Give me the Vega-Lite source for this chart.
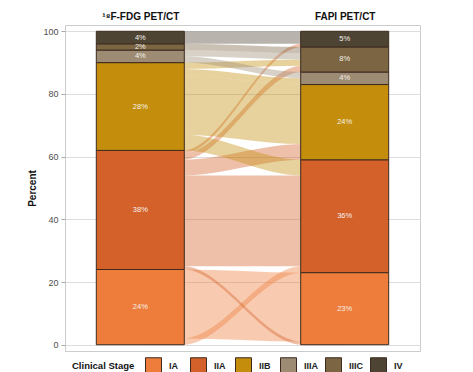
{
  "$schema": "https://vega.github.io/schema/vega-lite/v6.json",
  "width": 355,
  "height": 326,
  "autosize": {"type": "none"},
  "padding": {"left": 65, "top": 25, "right": 53, "bottom": 21},
  "background": "white",
  "config": {
    "font": "Liberation Sans",
    "view": {"stroke": "#cccccc", "strokeWidth": 1}
  },
  "datasets": {
    "bars": [
      {"method": "FDG", "stage": "IA", "pct": 24},
      {"method": "FDG", "stage": "IIA", "pct": 38},
      {"method": "FDG", "stage": "IIB", "pct": 28},
      {"method": "FDG", "stage": "IIIA", "pct": 4},
      {"method": "FDG", "stage": "IIIC", "pct": 2},
      {"method": "FDG", "stage": "IV", "pct": 4},
      {"method": "FAPI", "stage": "IA", "pct": 23},
      {"method": "FAPI", "stage": "IIA", "pct": 36},
      {"method": "FAPI", "stage": "IIB", "pct": 24},
      {"method": "FAPI", "stage": "IIIA", "pct": 4},
      {"method": "FAPI", "stage": "IIIC", "pct": 8},
      {"method": "FAPI", "stage": "IV", "pct": 5}
    ],
    "flows": [
      {"flow": "IA-IIA", "stage": "IA", "to": "IIA", "side": "L", "lo": 0, "hi": 2},
      {"flow": "IA-IIA", "stage": "IA", "to": "IIA", "side": "R", "lo": 23, "hi": 25},
      {"flow": "IA-IA", "stage": "IA", "to": "IA", "side": "L", "lo": 2, "hi": 24},
      {"flow": "IA-IA", "stage": "IA", "to": "IA", "side": "R", "lo": 1, "hi": 23},
      {"flow": "IIA-IA", "stage": "IIA", "to": "IA", "side": "L", "lo": 24, "hi": 25},
      {"flow": "IIA-IA", "stage": "IIA", "to": "IA", "side": "R", "lo": 0, "hi": 1},
      {"flow": "IIA-IIA", "stage": "IIA", "to": "IIA", "side": "L", "lo": 25, "hi": 54},
      {"flow": "IIA-IIA", "stage": "IIA", "to": "IIA", "side": "R", "lo": 25, "hi": 54},
      {"flow": "IIA-IIB", "stage": "IIA", "to": "IIB", "side": "L", "lo": 54, "hi": 59},
      {"flow": "IIA-IIB", "stage": "IIA", "to": "IIB", "side": "R", "lo": 59, "hi": 64},
      {"flow": "IIA-IIIC", "stage": "IIA", "to": "IIIC", "side": "L", "lo": 59, "hi": 61},
      {"flow": "IIA-IIIC", "stage": "IIA", "to": "IIIC", "side": "R", "lo": 87, "hi": 89},
      {"flow": "IIA-IV", "stage": "IIA", "to": "IV", "side": "L", "lo": 61, "hi": 62},
      {"flow": "IIA-IV", "stage": "IIA", "to": "IV", "side": "R", "lo": 95, "hi": 96},
      {"flow": "IIB-IIA", "stage": "IIB", "to": "IIA", "side": "L", "lo": 62, "hi": 67},
      {"flow": "IIB-IIA", "stage": "IIB", "to": "IIA", "side": "R", "lo": 54, "hi": 59},
      {"flow": "IIB-IIB", "stage": "IIB", "to": "IIB", "side": "L", "lo": 67, "hi": 86},
      {"flow": "IIB-IIB", "stage": "IIB", "to": "IIB", "side": "R", "lo": 64, "hi": 83},
      {"flow": "IIB-IIIA", "stage": "IIB", "to": "IIIA", "side": "L", "lo": 86, "hi": 88},
      {"flow": "IIB-IIIA", "stage": "IIB", "to": "IIIA", "side": "R", "lo": 83, "hi": 85},
      {"flow": "IIB-IIIC", "stage": "IIB", "to": "IIIC", "side": "L", "lo": 88, "hi": 90},
      {"flow": "IIB-IIIC", "stage": "IIB", "to": "IIIC", "side": "R", "lo": 89, "hi": 91},
      {"flow": "IIIA-IIIA", "stage": "IIIA", "to": "IIIA", "side": "L", "lo": 90, "hi": 92},
      {"flow": "IIIA-IIIA", "stage": "IIIA", "to": "IIIA", "side": "R", "lo": 85, "hi": 87},
      {"flow": "IIIA-IIIC", "stage": "IIIA", "to": "IIIC", "side": "L", "lo": 92, "hi": 94},
      {"flow": "IIIA-IIIC", "stage": "IIIA", "to": "IIIC", "side": "R", "lo": 91, "hi": 93},
      {"flow": "IIIC-IIIC", "stage": "IIIC", "to": "IIIC", "side": "L", "lo": 94, "hi": 96},
      {"flow": "IIIC-IIIC", "stage": "IIIC", "to": "IIIC", "side": "R", "lo": 93, "hi": 95},
      {"flow": "IV-IV", "stage": "IV", "to": "IV", "side": "L", "lo": 96, "hi": 100},
      {"flow": "IV-IV", "stage": "IV", "to": "IV", "side": "R", "lo": 96, "hi": 100}
    ]
  },
  "layer": [
    {
      "data": {"name": "flows"},
      "transform": [
        {"calculate": "[0, 1]", "as": "k"},
        {"flatten": ["k"]},
        {"calculate": "datum.side == 'L' ? 1 + 0.21 * datum.k : 2 - 0.21 * datum.k", "as": "xpos"}
      ],
      "mark": {"type": "area", "interpolate": "monotone", "opacity": 0.4},
      "encoding": {
        "x": {"field": "xpos", "type": "quantitative",
          "scale": {"domain": [0.656, 2.344], "nice": false, "zero": false},
          "axis": {"orient": "top", "values": [1, 2], "labelExpr": "datum.value == 1 ? '¹⁸F-FDG PET/CT' : 'FAPI PET/CT'", "ticks": false, "domain": false, "grid": false, "title": null, "labelFontSize": 10, "labelFontWeight": "bold", "labelColor": "#111111", "labelPadding": 4}},
        "y": {"field": "lo", "type": "quantitative",
          "scale": {"domain": [-2, 102], "nice": false, "zero": false},
          "axis": {"title": "Percent", "values": [0, 20, 40, 60, 80, 100], "grid": true, "gridColor": "#dddddd", "gridWidth": 1, "domain": false, "ticks": true, "tickColor": "#aaaaaa", "tickSize": 4, "labelColor": "#4d4d4d", "labelFontSize": 9, "labelPadding": 3, "titleFontSize": 10, "titleFontWeight": "bold", "titleColor": "#111111", "titlePadding": 5}},
        "y2": {"field": "hi"},
        "color": {"field": "stage", "type": "nominal",
          "scale": {"domain": ["IA", "IIA", "IIB", "IIIA", "IIIC", "IV"], "range": ["#EE7D3B", "#D4612A", "#C48E0C", "#9D8B73", "#7B6543", "#4E4433"]},
          "legend": {"title": "Clinical Stage", "orient": "none", "legendX": 7, "legendY": 332, "direction": "horizontal", "columns": 6, "gridAlign": "all", "titleOrient": "left", "titleFontSize": 9.5, "titleFontWeight": "bold", "titleColor": "#111111", "titlePadding": 10, "symbolType": "square", "symbolSize": 256, "symbolStrokeColor": "#3d2b1f", "symbolStrokeWidth": 1, "symbolOpacity": 1, "labelFontSize": 9, "labelFontWeight": "bold", "labelColor": "#222222", "labelOffset": 7, "columnPadding": 4}},
        "detail": {"field": "flow"}
      }
    },
    {
      "data": {"name": "bars"},
      "transform": [
        {"stack": "pct", "groupby": ["method"], "sort": [{"field": "stage", "order": "ascending"}], "as": ["lo", "hi"]},
        {"calculate": "datum.method == 'FDG' ? 1 : 2", "as": "xpos"}
      ],
      "mark": {"type": "bar", "width": 88, "stroke": "#3d2b1f", "strokeWidth": 1},
      "encoding": {
        "x": {"field": "xpos", "type": "quantitative",
          "scale": {"domain": [0.656, 2.344], "nice": false, "zero": false},
          "axis": {"orient": "top", "values": [1, 2], "labelExpr": "datum.value == 1 ? '¹⁸F-FDG PET/CT' : 'FAPI PET/CT'", "ticks": false, "domain": false, "grid": false, "title": null, "labelFontSize": 10, "labelFontWeight": "bold", "labelColor": "#111111", "labelPadding": 4}},
        "y": {"field": "lo", "type": "quantitative",
          "scale": {"domain": [-2, 102], "nice": false, "zero": false},
          "axis": {"title": "Percent", "values": [0, 20, 40, 60, 80, 100], "grid": true, "gridColor": "#dddddd", "gridWidth": 1, "domain": false, "ticks": true, "tickColor": "#aaaaaa", "tickSize": 4, "labelColor": "#4d4d4d", "labelFontSize": 9, "labelPadding": 3, "titleFontSize": 10, "titleFontWeight": "bold", "titleColor": "#111111", "titlePadding": 5}},
        "y2": {"field": "hi"},
        "color": {"field": "stage", "type": "nominal",
          "scale": {"domain": ["IA", "IIA", "IIB", "IIIA", "IIIC", "IV"], "range": ["#EE7D3B", "#D4612A", "#C48E0C", "#9D8B73", "#7B6543", "#4E4433"]},
          "legend": {"title": "Clinical Stage", "orient": "none", "legendX": 7, "legendY": 332, "direction": "horizontal", "columns": 6, "gridAlign": "all", "titleOrient": "left", "titleFontSize": 9.5, "titleFontWeight": "bold", "titleColor": "#111111", "titlePadding": 10, "symbolType": "square", "symbolSize": 256, "symbolStrokeColor": "#3d2b1f", "symbolStrokeWidth": 1, "symbolOpacity": 1, "labelFontSize": 9, "labelFontWeight": "bold", "labelColor": "#222222", "labelOffset": 7, "columnPadding": 4}}
      }
    },
    {
      "data": {"name": "bars"},
      "transform": [
        {"stack": "pct", "groupby": ["method"], "sort": [{"field": "stage", "order": "ascending"}], "as": ["lo", "hi"]},
        {"calculate": "datum.method == 'FDG' ? 1 : 2", "as": "xpos"},
        {"calculate": "(datum.lo + datum.hi) / 2", "as": "mid"},
        {"calculate": "datum.pct + '%'", "as": "label"}
      ],
      "mark": {"type": "text", "fontSize": 7.5, "color": "#f4f1ea", "baseline": "middle", "align": "center"},
      "encoding": {
        "x": {"field": "xpos", "type": "quantitative",
          "scale": {"domain": [0.656, 2.344], "nice": false, "zero": false},
          "axis": {"orient": "top", "values": [1, 2], "labelExpr": "datum.value == 1 ? '¹⁸F-FDG PET/CT' : 'FAPI PET/CT'", "ticks": false, "domain": false, "grid": false, "title": null, "labelFontSize": 10, "labelFontWeight": "bold", "labelColor": "#111111", "labelPadding": 4}},
        "y": {"field": "mid", "type": "quantitative",
          "scale": {"domain": [-2, 102], "nice": false, "zero": false},
          "axis": {"title": "Percent", "values": [0, 20, 40, 60, 80, 100], "grid": true, "gridColor": "#dddddd", "gridWidth": 1, "domain": false, "ticks": true, "tickColor": "#aaaaaa", "tickSize": 4, "labelColor": "#4d4d4d", "labelFontSize": 9, "labelPadding": 3, "titleFontSize": 10, "titleFontWeight": "bold", "titleColor": "#111111", "titlePadding": 5}},
        "text": {"field": "label"}
      }
    }
  ]
}
